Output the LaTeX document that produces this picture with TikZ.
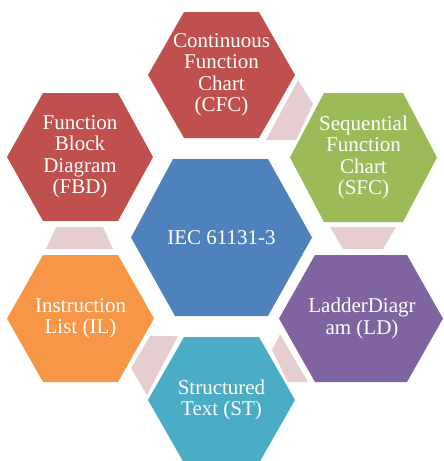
\documentclass[tikz,border=0pt]{standalone}
\usepackage{fontspec}
\setmainfont{Liberation Serif}
\definecolor{cred}{HTML}{C0504D}
\definecolor{cgreen}{HTML}{9BBB59}
\definecolor{cpurple}{HTML}{8064A2}
\definecolor{caqua}{HTML}{4BACC6}
\definecolor{corange}{HTML}{F79646}
\definecolor{cblue}{HTML}{4F81BD}
\definecolor{clink}{HTML}{E6CED0}
\begin{document}
\begin{tikzpicture}[x=1pt,y=-1pt,
  lbl/.style={text=white,align=center,font=\fontsize{21}{21.5}\selectfont,inner sep=0pt},
  link/.style={fill=clink}]
\useasboundingbox (0,0) rectangle (444,461);
% connectors
\fill[link] (298,80) -- (313,104) -- (296,140) -- (266,140) -- cycle;
\fill[link] (56,227) -- (103,227) -- (113,249) -- (46,249) -- cycle;
\fill[link] (330,227) -- (396,227) -- (383,249) -- (343,249) -- cycle;
\fill[link] (150,336) -- (178,336) -- (147,395) -- (131,368) -- cycle;
\fill[link] (280,334) -- (308,382) -- (288,382) -- (272,350) -- cycle;
% hexagons
\fill[cblue] (173,159) -- (268,159) -- (312,237.5) -- (268,316) -- (175,316) -- (131,237.5) -- cycle;
\node[lbl] (iec) at (221.5,237.5) {IEC 61131-3};
\fill[cred] (184,12) -- (259,12) -- (295,75) -- (259,138) -- (184,138) -- (148,75) -- cycle;
\node[lbl] (cfc) at (221.5,75) {Continuous\\Function\\Chart\\(CFC)};
\fill[cred] (43,93) -- (118,93) -- (153,157) -- (118,221) -- (43,221) -- (7,157) -- cycle;
\node[lbl] (fbd) at (80,157) {Function\\Block\\Diagram\\(FBD)};
\fill[cgreen] (324,93) -- (403,93) -- (437,157.5) -- (403,222) -- (324,222) -- (290,157.5) -- cycle;
\node[lbl] (sfc) at (363.5,157.5) {Sequential\\Function\\Chart\\(SFC)};
\fill[corange] (43,255) -- (118,255) -- (154,318.5) -- (118,382) -- (43,382) -- (7,318.5) -- cycle;
\node[lbl] (il) at (80.5,318.5) {Instruction\\List (IL)};
\fill[cpurple] (315,255) -- (407,255) -- (443,318.5) -- (407,382) -- (315,382) -- (279,318.5) -- cycle;
\node[lbl] (ld) at (362,318.5) {LadderDiagr\\am (LD)};
\fill[caqua] (184,337) -- (259,337) -- (295,400) -- (259,463) -- (184,463) -- (148,400) -- cycle;
\node[lbl] (st) at (221.5,400) {Structured\\Text (ST)};
\end{tikzpicture}
\end{document}
